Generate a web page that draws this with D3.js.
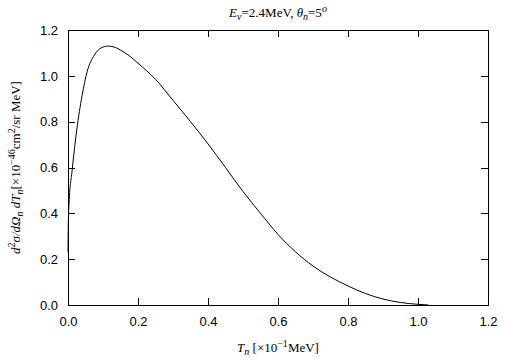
<!DOCTYPE html>
<html>
<head>
<meta charset="utf-8">
<script src="https://cdn.jsdelivr.net/npm/d3@7"></script>
<style>
  body { margin: 0; background: #fff; }
  .tick text { font-family: "Liberation Sans", Arimo, Arial, sans-serif; font-size: 13px; fill: #000; }
  .lbl { font-family: "Liberation Serif", Tinos, "Times New Roman", serif; font-size: 13px; fill: #000; }
</style>
</head>
<body>
<div id="app"></div>
<script>
var svgWidth = 505, svgHeight = 361;
var margin = { top: 30, right: 17, bottom: 56, left: 68 };
var planeWidth = svgWidth - margin.left - margin.right;
var planeHeight = svgHeight - margin.top - margin.bottom;

// curve: T_n [x10^-1 MeV] vs cross section
var tn   = [0.000, 0.001, 0.003, 0.012, 0.025, 0.040, 0.055, 0.075, 0.095, 0.115, 0.135, 0.150,
            0.175, 0.200, 0.250, 0.300, 0.350, 0.400, 0.450, 0.500, 0.550, 0.600, 0.650, 0.700,
            0.750, 0.800, 0.850, 0.900, 0.950, 1.000, 1.030];
var xsec = [0.230, 0.360, 0.445, 0.590, 0.764, 0.912, 1.020, 1.090, 1.122, 1.130, 1.124, 1.112,
            1.088, 1.055, 0.985, 0.893, 0.800, 0.703, 0.600, 0.495, 0.400, 0.308, 0.232, 0.170,
            0.122, 0.083, 0.050, 0.026, 0.011, 0.003, 0.000];
var xTicks = [0, 0.2, 0.4, 0.6, 0.8, 1.0, 1.2];
var yTicks = [0, 0.2, 0.4, 0.6, 0.8, 1.0, 1.2];

var svg = d3.select('#app').append("svg")
    .attr("width", svgWidth)
    .attr("height", svgHeight);

var g = svg.append("g")
    .attr("transform", "translate(" + margin.left + "," + margin.top + ")");

var x = d3.scaleLinear().domain([0, 1.2]).range([0, planeWidth]);
var y = d3.scaleLinear().domain([0, 1.2]).range([planeHeight, 0]);

// axes with inward ticks, mirrored on top/right
var fmt = d3.format(".1f");
g.append("g").attr("transform", "translate(0," + planeHeight + ")")
    .call(d3.axisBottom(x).tickValues(xTicks).tickFormat(fmt).tickSize(-7).tickPadding(12));
g.append("g")
    .call(d3.axisLeft(y).tickValues(yTicks).tickFormat(fmt).tickSize(-7).tickPadding(10));
g.append("g")
    .call(d3.axisTop(x).tickValues(xTicks).tickFormat("").tickSize(-7));
g.append("g").attr("transform", "translate(" + planeWidth + ",0)")
    .call(d3.axisRight(y).tickValues(yTicks).tickFormat("").tickSize(-7));

g.selectAll(".domain").attr("stroke", "#000");
g.selectAll(".tick line").attr("stroke", "#000");
g.selectAll("path, line").attr("shape-rendering", "crispEdges");

// curve
var pts = tn.map(function(d, i) { return [d, xsec[i]]; });
var line = d3.line()
    .x(function(d) { return x(d[0]); })
    .y(function(d) { return y(d[1]); })
    .curve(d3.curveMonotoneX);
g.append("path")
    .datum(pts)
    .attr("fill", "none")
    .attr("stroke", "#000")
    .attr("stroke-width", 1)
    .attr("d", line);

// title
var t = svg.append("text").attr("class", "lbl")
    .attr("x", margin.left + planeWidth / 2).attr("y", 17)
    .attr("text-anchor", "middle");
t.append("tspan").attr("font-style", "italic").text("E");
t.append("tspan").attr("font-style", "italic").attr("font-size", "10px").attr("dy", 3).text("ν");
t.append("tspan").attr("dy", -3).text("=2.4MeV,  ");
t.append("tspan").attr("font-style", "italic").text("θ");
t.append("tspan").attr("font-style", "italic").attr("font-size", "10px").attr("dy", 3).text("n");
t.append("tspan").attr("dy", -3).text("=5");
t.append("tspan").attr("font-style", "italic").attr("font-size", "10px").attr("dy", -5).text("o");

// x label
var xl = svg.append("text").attr("class", "lbl")
    .attr("x", margin.left + planeWidth / 2).attr("y", 352)
    .attr("text-anchor", "middle");
xl.append("tspan").attr("font-style", "italic").text("T");
xl.append("tspan").attr("font-style", "italic").attr("font-size", "10px").attr("dy", 3).text("n");
xl.append("tspan").attr("dy", -3).text(" [×10");
xl.append("tspan").attr("font-size", "10px").attr("dy", -5).text("−1");
xl.append("tspan").attr("dy", 5).text("MeV]");

// y label
var yl = svg.append("text").attr("class", "lbl")
    .attr("transform", "translate(20," + (margin.top + planeHeight / 2) + ") rotate(-90)")
    .attr("text-anchor", "middle");
yl.append("tspan").attr("font-style", "italic").text("d");
yl.append("tspan").attr("font-size", "10px").attr("dy", -5).text("2");
yl.append("tspan").attr("font-style", "italic").attr("dy", 5).text("σ/dΩ");
yl.append("tspan").attr("font-style", "italic").attr("font-size", "10px").attr("dy", 3).text("n");
yl.append("tspan").attr("font-style", "italic").attr("dy", -3).text(" dT");
yl.append("tspan").attr("font-style", "italic").attr("font-size", "10px").attr("dy", 3).text("n");
yl.append("tspan").attr("dy", -3).text("[×10");
yl.append("tspan").attr("font-size", "10px").attr("dy", -5).text("−46");
yl.append("tspan").attr("dy", 5).text("cm");
yl.append("tspan").attr("font-size", "10px").attr("dy", -5).text("2");
yl.append("tspan").attr("dy", 5).text("/sr MeV]");
</script>
</body>
</html>
